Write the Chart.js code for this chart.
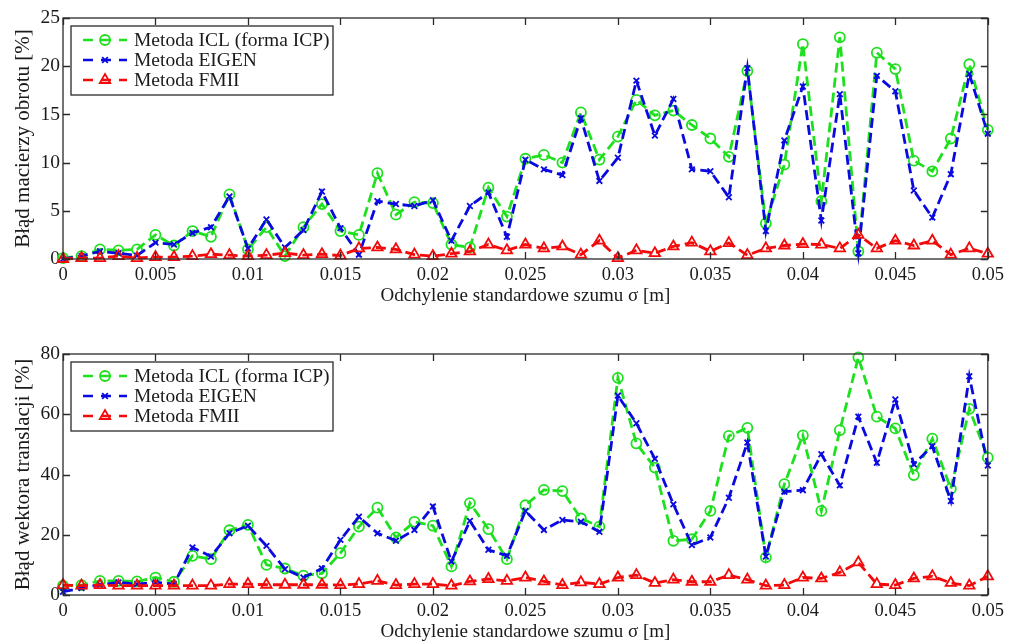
<!DOCTYPE html>
<html><head><meta charset="utf-8">
<script src="https://cdn.jsdelivr.net/npm/chart.js@4/dist/chart.umd.min.js"></script>
<style>
html,body{margin:0;padding:0;background:#fff;overflow:hidden;width:1009px;height:642px}
.wrap{position:absolute;left:0;width:1009px;height:321px}
</style></head><body>
<div class="wrap" style="top:0"><canvas id="c1" width="1009" height="321"></canvas></div>
<div class="wrap" style="top:336px"><canvas id="c2" width="1009" height="321"></canvas></div>
<script>
// ---- data ----
const sigma = [0,0.001,0.002,0.003,0.004,0.005,0.006,0.007,0.008,0.009,0.01,0.011,0.012,0.013,0.014,0.015,0.016,0.017,0.018,0.019,0.02,0.021,0.022,0.023,0.024,0.025,0.026,0.027,0.028,0.029,0.03,0.031,0.032,0.033,0.034,0.035,0.036,0.037,0.038,0.039,0.04,0.041,0.042,0.043,0.044,0.045,0.046,0.047,0.048,0.049,0.05];
const xTicks = [0,0.005,0.01,0.015,0.02,0.025,0.03,0.035,0.04,0.045,0.05];
const seriesNames = ['Metoda ICL (forma ICP)','Metoda EIGEN','Metoda FMII'];

const rotICL = [0.1,0.3,1.0,0.9,1.0,2.5,1.4,2.9,2.3,6.7,1.0,3.3,0.3,3.3,5.7,2.9,2.5,8.9,4.6,5.9,5.8,1.5,1.2,7.4,4.4,10.4,10.8,10.0,15.2,10.3,12.7,16.5,14.9,15.4,13.9,12.5,10.6,19.5,3.7,9.8,22.3,6.0,23.0,0.8,21.4,19.7,10.2,9.1,12.5,20.2,13.4];
const rotEIGEN = [0,0.3,0.8,0.6,0.35,1.7,1.5,2.7,3.3,6.5,1.1,4.1,1.2,3.0,7.0,3.2,0.45,6.0,5.7,5.5,6.1,1.9,5.5,6.9,2.3,10.3,9.3,8.7,14.6,8.1,10.5,18.5,12.8,16.6,9.3,9.1,6.4,19.8,2.9,12.3,17.9,4.0,17.1,0.6,19.0,17.4,7.1,4.3,8.8,19.2,13.0];
const rotFMII = [0,0.1,0.1,0.3,0.1,0.2,0.2,0.3,0.5,0.4,0.3,0.4,0.6,0.4,0.5,0.35,1.1,1.2,1.0,0.45,0.3,0.55,0.8,1.5,0.9,1.5,1.1,1.3,0.45,1.9,0.1,0.9,0.6,1.3,1.7,0.8,1.65,0.4,1.1,1.4,1.55,1.5,1.1,2.5,1.1,1.9,1.4,1.9,0.45,1.1,0.55];
const rotTicks = [0,5,10,15,20,25];

const trICL = [3.1,3.3,4.7,4.7,4.5,5.8,4.4,13.0,11.9,21.5,23.3,10.0,8.8,6.4,7.2,13.9,22.7,29.0,19.1,24.3,23.0,9.5,30.5,21.9,11.9,29.8,34.9,34.5,25.4,22.7,72.1,50.3,42.3,18.0,18.5,27.9,52.8,55.5,12.5,36.8,53.0,27.9,54.7,78.9,59.2,55.3,39.8,51.9,35.3,61.8,45.6];
const trEIGEN = [1.1,2.3,3.4,4.2,3.6,4.2,3.6,15.8,12.8,20.5,23.0,16.3,8.6,5.8,8.8,18.3,26.0,20.5,18.0,21.6,29.4,11.1,24.6,15.0,13.0,27.9,21.6,24.9,24.3,21.0,66.2,57.0,45.2,30.1,16.6,19.1,32.3,50.6,12.8,34.3,34.8,46.7,36.4,59.2,43.9,64.9,43.4,49.4,31.2,72.6,43.0];
const trFMII = [3.3,3.1,3.3,3.1,3.1,3.1,3.1,3.1,3.1,3.6,3.6,3.4,3.4,3.4,3.4,3.3,3.6,4.7,3.3,3.6,3.6,3.1,4.5,5.3,4.7,5.8,4.5,3.3,4.2,3.6,5.8,6.6,4.0,5.1,4.4,4.4,6.6,5.1,3.1,3.3,5.8,5.5,7.5,10.8,3.6,3.3,5.5,6.2,4.0,3.1,6.2];
const trTicks = [0,20,40,60,80];

// ---- styles ----
const FONT = "'Liberation Serif','Times New Roman',serif";
const styles = [
  {color:'#1ee01e', pointStyle:'circle', radius:5, order:2},
  {color:'#0a0ae0', pointStyle:'crossRot', radius:4, order:1},
  {color:'#f20a0a', pointStyle:'triangle', radius:6, order:0}
];
const DASH = [10,5];

function makeDatasets(arrs){
  return arrs.map((vals,i)=>({
    label: seriesNames[i],
    data: sigma.map((s,k)=>({x:s, y:vals[k]})),
    borderColor: styles[i].color,
    backgroundColor: 'rgba(0,0,0,0)',
    borderWidth: 2.8,
    borderDash: DASH,
    pointStyle: styles[i].pointStyle,
    pointRadius: styles[i].radius,
    pointBorderWidth: 1.8,
    pointBorderColor: styles[i].color,
    pointBackgroundColor: 'rgba(0,0,0,0)',
    tension: 0,
    order: styles[i].order,
    clip: false
  }));
}

const framePlugin = {
  id:'frame',
  afterDatasetsDraw(chart){
    const {ctx, chartArea:a} = chart;
    const xs = chart.scales.x, ys = chart.scales.y;
    ctx.save();
    ctx.strokeStyle = '#2a2a2a';
    ctx.lineWidth = 1.3;
    ctx.setLineDash([]);
    ctx.strokeRect(a.left, a.top, a.right-a.left, a.bottom-a.top);
    ctx.beginPath();
    xs.ticks.forEach(t=>{
      const p = Math.round(xs.getPixelForValue(t.value))+0.5;
      ctx.moveTo(p,a.bottom); ctx.lineTo(p,a.bottom-7);
      ctx.moveTo(p,a.top); ctx.lineTo(p,a.top+7);
    });
    ys.ticks.forEach(t=>{
      const p = Math.round(ys.getPixelForValue(t.value))+0.5;
      ctx.moveTo(a.left,p); ctx.lineTo(a.left+7,p);
      ctx.moveTo(a.right,p); ctx.lineTo(a.right-7,p);
    });
    ctx.stroke();
    // legend
    const L = a.left+8, T = a.top+8, W = 262, H = 69;
    ctx.fillStyle = '#fff';
    ctx.fillRect(L,T,W,H);
    ctx.strokeStyle = '#2a2a2a';
    ctx.lineWidth = 1.3;
    ctx.strokeRect(L,T,W,H);
    ctx.font = "19.5px " + FONT;
    ctx.textBaseline = 'middle';
    ctx.textAlign = 'left';
    seriesNames.forEach((name,i)=>{
      const y = T + 14 + i*20;
      const st = styles[i];
      ctx.strokeStyle = st.color;
      ctx.lineWidth = 2.6;
      ctx.setLineDash([10,8]);
      ctx.beginPath(); ctx.moveTo(L+12,y); ctx.lineTo(L+56,y); ctx.stroke();
      ctx.setLineDash([]);
      ctx.lineWidth = 1.8;
      ctx.fillStyle = 'rgba(0,0,0,0)';
      Chart.helpers.drawPoint(ctx,{pointStyle:st.pointStyle, radius:st.radius, rotation:0, borderWidth:1.8}, L+34, y);
      ctx.fillStyle = '#1a1a1a';
      ctx.fillText(name, L+63, y+1);
    });
    ctx.restore();
  }
};

function makeChart(id, arrs, yTicks, yMax, yTitle){
  return new Chart(document.getElementById(id), {
    type:'line',
    data:{datasets: makeDatasets(arrs)},
    options:{
      responsive:false, animation:false, devicePixelRatio:1,
      layout:{padding:{left:0,right:21,top:18,bottom:0}},
      plugins:{legend:{display:false}, tooltip:{enabled:false}},
      scales:{
        x:{type:'linear', min:0, max:0.05,
          afterBuildTicks: s=>{ s.ticks = xTicks.map(v=>({value:v})); },
          afterFit: s=>{ s.height = 62; },
          grid:{display:false, drawTicks:false}, border:{display:false},
          ticks:{autoSkip:false, maxRotation:0, padding:5, color:'#1a1a1a',
            font:{family:FONT, size:18.5},
            callback:(v)=>String(v)},
          title:{display:true, text:'Odchylenie standardowe szumu σ [m]', color:'#1a1a1a',
            font:{family:FONT, size:19}, padding:{top:0,bottom:14}}
        },
        y:{type:'linear', min:0, max:yMax,
          afterBuildTicks: s=>{ s.ticks = yTicks.map(v=>({value:v})); },
          afterFit: s=>{ s.width = 63; },
          grid:{display:false, drawTicks:false}, border:{display:false},
          ticks:{padding:3, color:'#1a1a1a', font:{family:FONT, size:19.5},
            callback:(v)=>String(v)},
          title:{display:true, text:yTitle, color:'#1a1a1a',
            font:{family:FONT, size:21}, padding:{top:11,bottom:0}}
        }
      }
    },
    plugins:[framePlugin]
  });
}

makeChart('c1', [rotICL, rotEIGEN, rotFMII], rotTicks, 25, 'Błąd macierzy obrotu [%]');
makeChart('c2', [trICL, trEIGEN, trFMII], trTicks, 80, 'Błąd wektora translacji [%]');
</script>
</body></html>
